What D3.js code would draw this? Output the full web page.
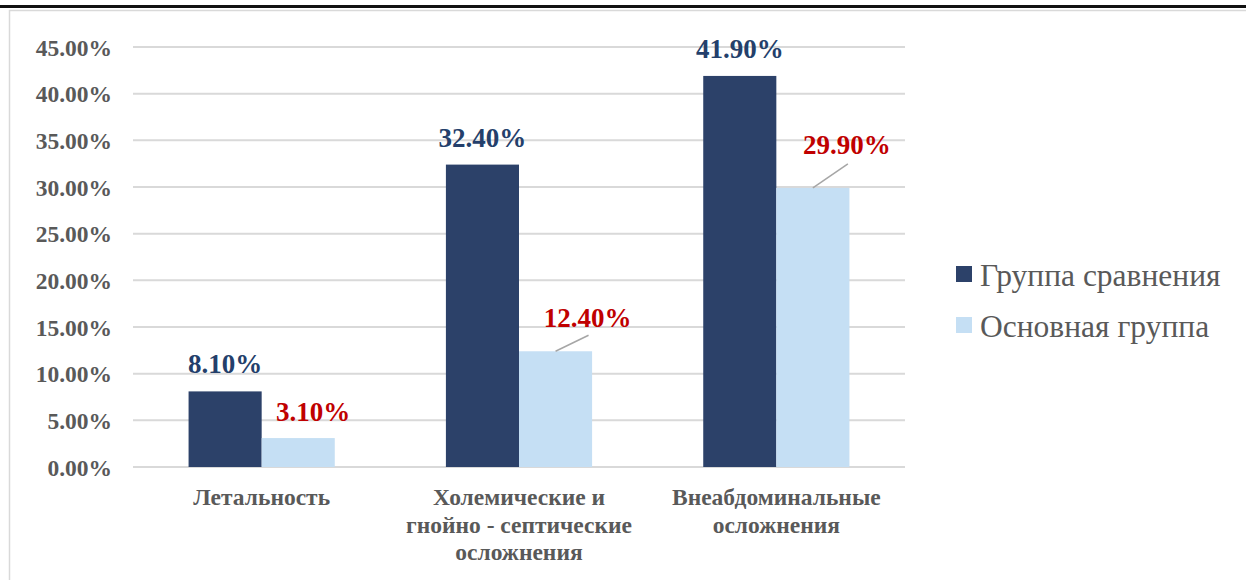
<!DOCTYPE html>
<html>
<head>
<meta charset="utf-8">
<script src="https://cdn.jsdelivr.net/npm/d3@7"></script>
<style>
  html, body { margin: 0; padding: 0; background: #fff; }
  #chart { width: 1246px; height: 580px; }
</style>
</head>
<body>
<div id="chart"></div>
<script>
const categories = [
  ["Летальность"],
  ["Холемические и", "гнойно - септические", "осложнения"],
  ["Внеабдоминальные", "осложнения"]
];
const seriesNames = ["Группа сравнения", "Основная группа"];
const comparison = [8.1, 32.4, 41.9];
const mainGroup = [3.1, 12.4, 29.9];
const yTicks = [0, 5, 10, 15, 20, 25, 30, 35, 40, 45];

const colors = ["#2c4169", "#c5dff4"];
const labelColors = ["#243f6b", "#c00000"];

function draw() {
  const w = 1246, h = 580;
  const font = "'Liberation Serif', 'Times New Roman', serif";
  const svg = d3.select("#chart").append("svg")
    .attr("width", w).attr("height", h);

  // page decorations: dark rule on top and the chart frame
  svg.append("rect").attr("x", 0).attr("y", 5).attr("width", w).attr("height", 3).attr("fill", "#111");
  svg.append("rect").attr("x", 9.5).attr("y", 10.5).attr("width", w).attr("height", h)
    .attr("fill", "none").attr("stroke", "#d9d9d9").attr("stroke-width", 1.5);

  const plot = { left: 133, right: 905, top: 47, bottom: 467 };

  const x = d3.scaleBand()
    .domain(d3.range(categories.length))
    .range([plot.left, plot.right])
    .padding(0);

  const y = d3.scaleLinear()
    .domain([0, 45])
    .range([plot.bottom, plot.top]);

  const barW = x.bandwidth() * 73 / 257;

  // gridlines
  svg.append("g")
    .selectAll("line")
    .data(yTicks)
    .join("line")
    .attr("x1", plot.left).attr("x2", plot.right)
    .attr("y1", d => y(d)).attr("y2", d => y(d))
    .attr("stroke", "#d9d9d9").attr("stroke-width", 2);

  // y axis labels
  const yAxis = svg.append("g")
    .attr("transform", `translate(${plot.left - 21},0)`)
    .call(d3.axisLeft(y).tickValues(yTicks).tickSize(0).tickFormat(d => d.toFixed(2) + "%"));
  yAxis.select(".domain").remove();
  yAxis.selectAll("text")
    .attr("x", 0)
    .attr("dy", "0.35em")
    .attr("fill", "#595959")
    .style("font-family", font)
    .style("font-weight", "bold")
    .style("font-size", "23.5px");

  const groups = [comparison, mainGroup];

  groups.forEach((vals, si) => {
    svg.append("g")
      .selectAll("rect")
      .data(vals)
      .join("rect")
      .attr("x", (d, i) => x(i) + x.bandwidth() / 2 - barW + si * barW)
      .attr("y", d => y(d))
      .attr("width", barW)
      .attr("height", d => y(0) - y(d))
      .attr("fill", colors[si]);
  });

  // labels for comparison group, above bars
  svg.append("g")
    .selectAll("text")
    .data(comparison)
    .join("text")
    .attr("x", (d, i) => x(i) + x.bandwidth() / 2 - barW / 2)
    .attr("y", d => y(d) - 18)
    .attr("text-anchor", "middle")
    .attr("fill", labelColors[0])
    .style("font-family", font)
    .style("font-weight", "bold")
    .style("font-size", "27px")
    .text(d => d.toFixed(2) + "%");

  // labels for main group, offset up-right with leader lines
  const offsets = [
    { dx: 15, dy: -17, lx: 0, ly: 0 },
    { dx: 32, dy: -24, lx: 33, ly: -16 },
    { dx: 34, dy: -34, lx: 35, ly: -24 }
  ];
  const lbl = svg.append("g");
  mainGroup.forEach((d, i) => {
    const bx = x(i) + x.bandwidth() / 2 + barW / 2;
    const by = y(d);
    const o = offsets[i];
    if (o.lx) {
      lbl.append("line")
        .attr("x1", bx).attr("y1", by)
        .attr("x2", bx + o.lx).attr("y2", by + o.ly)
        .attr("stroke", "#a6a6a6").attr("stroke-width", 1.5);
    }
    lbl.append("text")
      .attr("x", bx + o.dx)
      .attr("y", by + o.dy)
      .attr("text-anchor", "middle")
      .attr("fill", labelColors[1])
      .style("font-family", font)
      .style("font-weight", "bold")
      .style("font-size", "27px")
      .text(d.toFixed(2) + "%");
  });

  // category labels
  const cat = svg.append("g")
    .selectAll("text")
    .data(categories)
    .join("text")
    .attr("x", (d, i) => x(i) + x.bandwidth() / 2)
    .attr("y", 505)
    .attr("text-anchor", "middle")
    .attr("fill", "#595959")
    .style("font-family", font)
    .style("font-weight", "bold")
    .style("font-size", "23.5px");
  cat.selectAll("tspan")
    .data(d => d)
    .join("tspan")
    .attr("x", function () { return d3.select(this.parentNode).attr("x"); })
    .attr("dy", (d, j) => j === 0 ? 0 : 27.5)
    .text(d => d);

  // legend
  const legend = svg.append("g").attr("transform", "translate(956,266)");
  seriesNames.forEach((name, i) => {
    const row = legend.append("g").attr("transform", `translate(0,${i * 51})`);
    row.append("rect").attr("width", 16).attr("height", 16).attr("fill", colors[i]);
    row.append("text")
      .attr("x", 24).attr("y", 9)
      .attr("dy", "0.35em")
      .attr("fill", "#595959")
      .style("font-family", font)
      .style("font-size", "31.5px")
      .text(name);
  });
}

draw();
</script>
</body>
</html>
